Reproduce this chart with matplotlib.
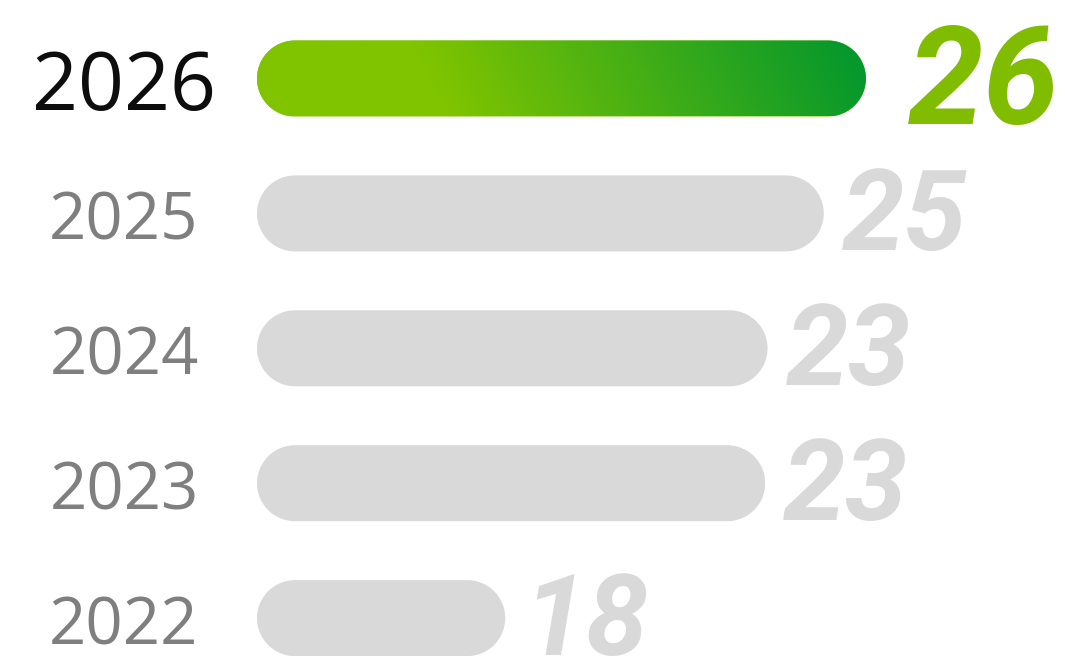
import numpy as np
import matplotlib.pyplot as plt
from matplotlib.patches import Polygon
from matplotlib.colors import to_rgb

# 데이터 (위에서 아래 순서)
years = ['2026', '2025', '2024', '2023', '2022']
values = [26, 25, 23, 23, 18]                  # 막대 오른쪽 숫자
bar_lengths = [26.0, 24.2, 21.8, 21.7, 10.6]   # 그림에서 읽은 막대 길이
highlight = '2026'

# 색상
GREEN_L = '#80C400'
GREEN_R = '#00962E'
GREEN_TXT = '#80BC00'
GREY_BAR = '#D9D9D9'
GREY_TXT = '#7F7F7F'
BLACK_TXT = '#0D0D0D'

# 픽셀 <-> 데이터 단위 변환
PX_X = 23.42     # 값 1 당 픽셀
X0 = 257         # 값 0 의 픽셀 위치
ROW_PX = 134.9   # 행 간격(픽셀)
Y0 = 78.5        # 첫 행 중심(픽셀)
BAR_PX = 76      # 막대 두께(픽셀)

W, H = 1065, 656
fig = plt.figure(figsize=(W / 100, H / 100), dpi=100)
ax = fig.add_axes([0, 0, 1, 1])

h = BAR_PX / ROW_PX
rx = (BAR_PX / 2) / PX_X


def py(px):
    return px / ROW_PX


def rounded_bar(L, yc, **kw):
    # 양 끝이 반원인 막대
    th_r = np.linspace(-np.pi / 2, np.pi / 2, 60)
    th_l = np.linspace(np.pi / 2, 3 * np.pi / 2, 60)
    xs = np.concatenate([L - rx + rx * np.cos(th_r), rx + rx * np.cos(th_l)])
    ys = np.concatenate([yc + h / 2 * np.sin(th_r), yc + h / 2 * np.sin(th_l)])
    return Polygon(np.column_stack([xs, ys]), closed=True, **kw)


for i, (yr, v, L) in enumerate(zip(years, values, bar_lengths)):
    hl = yr == highlight
    patch = rounded_bar(L, i, linewidth=0,
                        facecolor=GREEN_L if hl else GREY_BAR, zorder=2)
    ax.add_patch(patch)

    if hl:
        # 대각선 방향 그라데이션
        nx, ny = 700, 90
        X, Y = np.meshgrid(np.linspace(0, 1, nx), np.linspace(0, 1, ny))
        Lp = L * PX_X
        t = (X * Lp + (1 - Y) * BAR_PX * 0.5) / (Lp + BAR_PX * 0.5)
        f = np.clip((t - 0.3) / 0.7, 0, 1)[..., None]
        img = np.array(to_rgb(GREEN_L)) * (1 - f) + np.array(to_rgb(GREEN_R)) * f
        im = ax.imshow(img, extent=(0, L, i + h / 2, i - h / 2), aspect='auto',
                       interpolation='bilinear', zorder=3)
        im.set_clip_path(patch)

    # 연도 라벨
    ys = 58 if hl else 47
    cap = ys * 100 / 72 * 0.714
    ax.text((124 - X0) / PX_X, i + py(cap / 2 + 3), yr,
            ha='center', va='baseline', fontsize=ys, family='Open Sans',
            color=BLACK_TXT if hl else GREY_TXT)

    # 값 라벨
    vs = 98 if hl else 81
    vcap = vs * 100 / 72 * 0.711
    gap = 42 if hl else 18
    ax.text(L + gap / PX_X, i + py(vcap / 2 - 3), str(v),
            ha='left', va='baseline', fontsize=vs, family='Roboto',
            fontweight='bold', fontstyle='italic',
            color=GREEN_TXT if hl else GREY_BAR)

ax.set_xlim(-X0 / PX_X, (W - X0) / PX_X)
ax.set_ylim((H - Y0) / ROW_PX, -Y0 / ROW_PX)
ax.axis('off')

plt.savefig('out.png', dpi=100)
